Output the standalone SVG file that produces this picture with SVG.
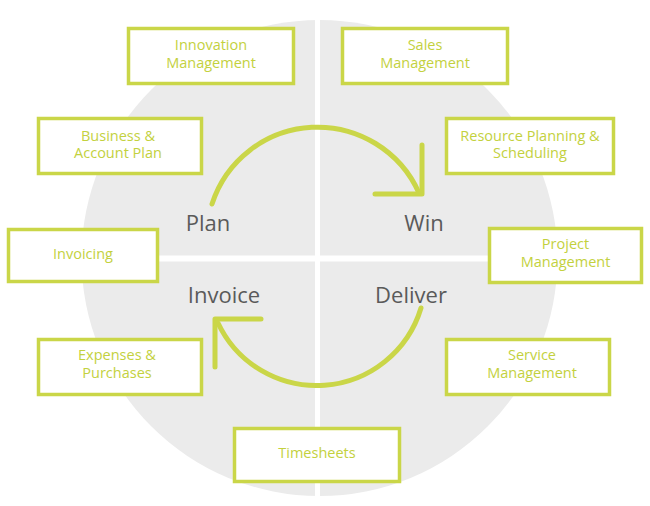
<svg xmlns="http://www.w3.org/2000/svg" width="650" height="506" viewBox="0 0 650 506">
<defs>
<style>
.box rect{fill:#fff;stroke:#cad648;stroke-width:3.5}
.box text{font-family:"Open Sans","Noto Sans",sans-serif;font-size:14.5px;fill:#c3d13e;text-anchor:middle}
.phase{font-family:"Open Sans","Noto Sans",sans-serif;font-size:22px;fill:#5a5a5a;text-anchor:middle}
.conn path{fill:none;stroke:#cad648;stroke-width:5;stroke-linecap:round;stroke-linejoin:round}
</style>
</defs>
<rect width="650" height="506" fill="#fff"/>
<g id="background">
<circle cx="319.5" cy="258" r="238" fill="#ebebeb"/>
<rect x="315" y="15" width="5" height="490" fill="#fff"/>
<rect x="75" y="255.5" width="490" height="6" fill="#fff"/>
</g>
<g id="phases">
<text class="phase" x="208" y="231">Plan</text>
<text class="phase" x="424" y="231">Win</text>
<text class="phase" x="224" y="303">Invoice</text>
<text class="phase" x="411" y="303">Deliver</text>
</g>
<g class="conn" id="connectors">
<path d="M212,204 A111,111 0 0 1 419,193"/>
<path d="M375,194 L422,194 L422,145"/>
<path d="M421,308 A109,109 0 0 1 218,323"/>
<path d="M261,319 L215,319 L215,367"/>
</g>
<g class="box" id="innovation">
<rect x="128.5" y="28.5" width="165" height="55"/>
<text x="211" y="50">Innovation</text><text x="211" y="67.5">Management</text>
</g>
<g class="box" id="sales">
<rect x="342.5" y="28.5" width="165" height="55"/>
<text x="425" y="50">Sales</text><text x="425" y="67.5">Management</text>
</g>
<g class="box" id="business">
<rect x="38.5" y="118.5" width="163" height="55"/>
<text x="118" y="140.5">Business &amp;</text><text x="118" y="158">Account Plan</text>
</g>
<g class="box" id="resource">
<rect x="446.5" y="118.5" width="167" height="55"/>
<text x="530" y="140.5">Resource Planning &amp;</text><text x="530" y="158">Scheduling</text>
</g>
<g class="box" id="invoicing">
<rect x="8.5" y="229.5" width="149" height="52"/>
<text x="83" y="259">Invoicing</text>
</g>
<g class="box" id="project">
<rect x="489.5" y="228.5" width="152" height="54"/>
<text x="565.5" y="249">Project</text><text x="565.5" y="266.5">Management</text>
</g>
<g class="box" id="expenses">
<rect x="38.5" y="339.5" width="163" height="55"/>
<text x="117" y="360">Expenses &amp;</text><text x="117" y="377.5">Purchases</text>
</g>
<g class="box" id="service">
<rect x="446.5" y="339.5" width="163" height="55"/>
<text x="532" y="360">Service</text><text x="532" y="377.5">Management</text>
</g>
<g class="box" id="timesheets">
<rect x="234.5" y="428.5" width="165" height="53"/>
<text x="317" y="458">Timesheets</text>
</g>
</svg>
